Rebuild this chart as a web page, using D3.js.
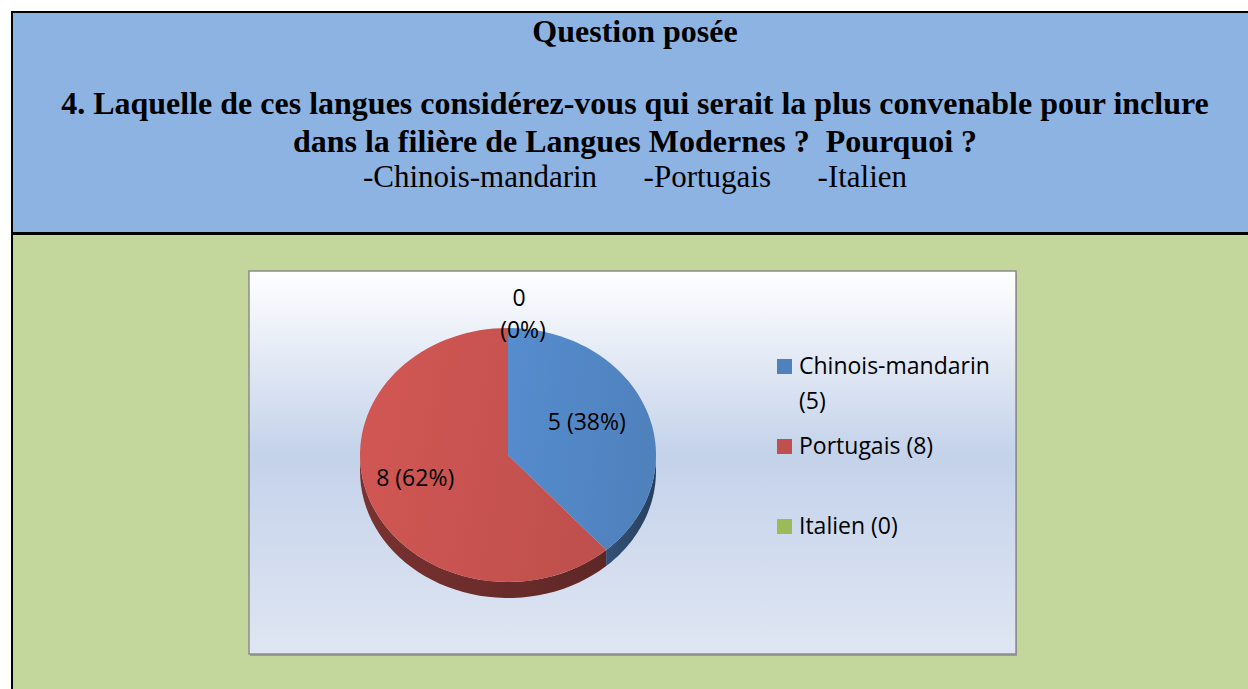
<!DOCTYPE html>
<html>
<head>
<meta charset="utf-8">
<script src="https://cdn.jsdelivr.net/npm/d3@7"></script>
<style>
  body { margin: 0; background: #fff; }
  svg { display: block; }
</style>
</head>
<body>
<script>
// data
var categories = ["Chinois-mandarin", "Portugais", "Italien"];
var counts = [5, 8, 0];
var colors = ["#4F81BD", "#C0504D", "#9BBB59"];
var headerTitle = "Question posée";
var questionLines = [
  "4. Laquelle de ces langues considérez-vous qui serait la plus convenable pour inclure",
  "dans la filière de Langues Modernes ?  Pourquoi ?"
];
var optionLine = "-Chinois-mandarin      -Portugais      -Italien";

var W = 1248, H = 689;

var svg = d3.select("body").append("svg")
    .attr("width", W)
    .attr("height", H);

var defs = svg.append("defs");

// page background: blue header + green body in a bordered table
svg.append("rect").attr("x", 11).attr("y", 11).attr("width", W).attr("height", 223)
    .attr("fill", "#8DB3E2");
svg.append("rect").attr("x", 11).attr("y", 234).attr("width", W).attr("height", H - 234)
    .attr("fill", "#C3D69B");
svg.append("line").attr("x1", 11).attr("x2", W).attr("y1", 12).attr("y2", 12)
    .attr("stroke", "#000").attr("stroke-width", 2);
svg.append("line").attr("x1", 12).attr("x2", 12).attr("y1", 11).attr("y2", H)
    .attr("stroke", "#000").attr("stroke-width", 2);
svg.append("line").attr("x1", 11).attr("x2", W).attr("y1", 233.5).attr("y2", 233.5)
    .attr("stroke", "#000").attr("stroke-width", 3);

// header text
var cxText = 635;
var serif = "'Liberation Serif', 'Times New Roman', serif";
svg.append("text")
    .attr("x", cxText).attr("y", 42)
    .attr("text-anchor", "middle")
    .style("font-family", serif)
    .style("font-weight", "bold")
    .style("font-size", "32px")
    .text(headerTitle);

svg.selectAll(".q")
    .data(questionLines)
  .enter().append("text")
    .attr("class", "q")
    .attr("x", cxText)
    .attr("y", function(d, i) { return 114 + i * 38; })
    .attr("text-anchor", "middle")
    .attr("xml:space", "preserve")
    .style("white-space", "pre")
    .style("font-family", serif)
    .style("font-weight", "bold")
    .style("font-size", "32px")
    .text(function(d) { return d; });

svg.append("text")
    .attr("x", cxText).attr("y", 187)
    .attr("text-anchor", "middle")
    .attr("xml:space", "preserve")
    .style("white-space", "pre")
    .style("font-family", serif)
    .style("font-size", "31px")
    .text(optionLine);

// chart area box
var box = {x: 249, y: 271, w: 767, h: 383};

var bg = defs.append("linearGradient").attr("id", "bgGrad")
    .attr("x1", 0).attr("y1", 0).attr("x2", 0).attr("y2", 1);
bg.append("stop").attr("offset", "0%").attr("stop-color", "#FFFFFF");
bg.append("stop").attr("offset", "48%").attr("stop-color", "#C4D2EA");
bg.append("stop").attr("offset", "100%").attr("stop-color", "#DFE6F3");

svg.append("rect")
    .attr("x", box.x + 1).attr("y", box.y + 2)
    .attr("width", box.w).attr("height", box.h)
    .attr("fill", "#9A9A9A");
svg.append("rect")
    .attr("x", box.x).attr("y", box.y)
    .attr("width", box.w).attr("height", box.h)
    .attr("fill", "url(#bgGrad)")
    .attr("stroke", "#8C8C8C")
    .attr("stroke-width", 1.5);

// 3D pie
var cx = 508, cy = 455, rx = 148, ry = 127, depth = 16;
var total = d3.sum(counts);

var pie = d3.pie().sort(null).value(function(d) { return d; });
var arcs = pie(counts);

function pt(a, k) {
  return [cx + rx * k * Math.sin(a), cy - ry * k * Math.cos(a)];
}

// slice gradients
colors.forEach(function(c, i) {
  var g = defs.append("linearGradient").attr("id", "top" + i)
      .attr("x1", 0).attr("y1", 0).attr("x2", 1).attr("y2", 0.2);
  g.append("stop").attr("offset", "0%").attr("stop-color", d3.color(c).brighter(0.25));
  g.append("stop").attr("offset", "100%").attr("stop-color", c);
  var s = defs.append("linearGradient").attr("id", "side" + i)
      .attr("x1", 0).attr("y1", 0).attr("x2", 1).attr("y2", 0);
  s.append("stop").attr("offset", "0%").attr("stop-color", d3.color(c).darker(1.3));
  s.append("stop").attr("offset", "100%").attr("stop-color", d3.color(c).darker(2.0));
});

var pie3d = svg.append("g");

// side walls (front half only)
arcs.forEach(function(d, i) {
  var a0 = Math.max(d.startAngle, Math.PI / 2);
  var a1 = Math.min(d.endAngle, 3 * Math.PI / 2);
  if (a1 <= a0) return;
  var n = 40, top = [], bot = [];
  for (var j = 0; j <= n; j++) {
    var a = a0 + (a1 - a0) * j / n;
    var p = pt(a, 1);
    top.push(p);
    bot.push([p[0], p[1] + depth]);
  }
  var pts = top.concat(bot.reverse());
  pie3d.append("path")
      .attr("d", "M" + pts.join("L") + "Z")
      .attr("fill", "url(#side" + i + ")");
});

// top faces
arcs.forEach(function(d, i) {
  if (d.endAngle - d.startAngle <= 0) return;
  var n = 80, pts = [[cx, cy]];
  for (var j = 0; j <= n; j++) {
    var a = d.startAngle + (d.endAngle - d.startAngle) * j / n;
    pts.push(pt(a, 1));
  }
  pie3d.append("path")
      .attr("d", "M" + pts.join("L") + "Z")
      .attr("fill", "url(#top" + i + ")");
});

// data labels
var labelFont = "'Open Sans', 'Noto Sans', sans-serif";
arcs.forEach(function(d, i) {
  var pct = Math.round(d.data / total * 100);
  var mid = (d.startAngle + d.endAngle) / 2;
  if (d.data > 0) {
    var p = pt(mid, 0.62);
    svg.append("text")
        .attr("x", p[0] - 7).attr("y", p[1] - 5)
        .attr("dy", "0.35em")
        .attr("text-anchor", "middle")
        .style("font-family", labelFont)
        .style("font-size", "23px")
        .style("fill", "#000")
        .text(d.data + " (" + pct + "%)");
  } else {
    var q = pt(mid, 1.24);
    var t = svg.append("text")
        .attr("y", q[1] + 8)
        .attr("text-anchor", "middle")
        .style("font-family", labelFont)
        .style("font-size", "23px")
        .style("fill", "#000");
    t.append("tspan").attr("x", q[0] + 11).attr("dy", "0em").text(d.data);
    t.append("tspan").attr("x", q[0] + 15).attr("dy", "1.42em").text("(" + pct + "%)");
  }
});

// legend
var legendY = d3.scalePoint().domain(categories).range([374, 534]);
var legend = svg.append("g");
var maxW = 200;
categories.forEach(function(c, i) {
  var y = legendY(c);
  legend.append("rect")
      .attr("x", 777).attr("y", y - 15)
      .attr("width", 15).attr("height", 15)
      .attr("fill", colors[i]);
  var txt = legend.append("text")
      .attr("x", 799).attr("y", y)
      .style("font-family", labelFont)
      .style("font-size", "23px")
      .style("fill", "#000");
  var words = (c + " (" + counts[i] + ")").split(" ");
  var line = [], tspan = txt.append("tspan").attr("x", 799).attr("y", y);
  words.forEach(function(w) {
    line.push(w);
    tspan.text(line.join(" "));
    if (tspan.node().getComputedTextLength() > maxW && line.length > 1) {
      line.pop();
      tspan.text(line.join(" "));
      line = [w];
      tspan = txt.append("tspan").attr("x", 799).attr("dy", 35).text(w);
    }
  });
});
</script>
</body>
</html>
